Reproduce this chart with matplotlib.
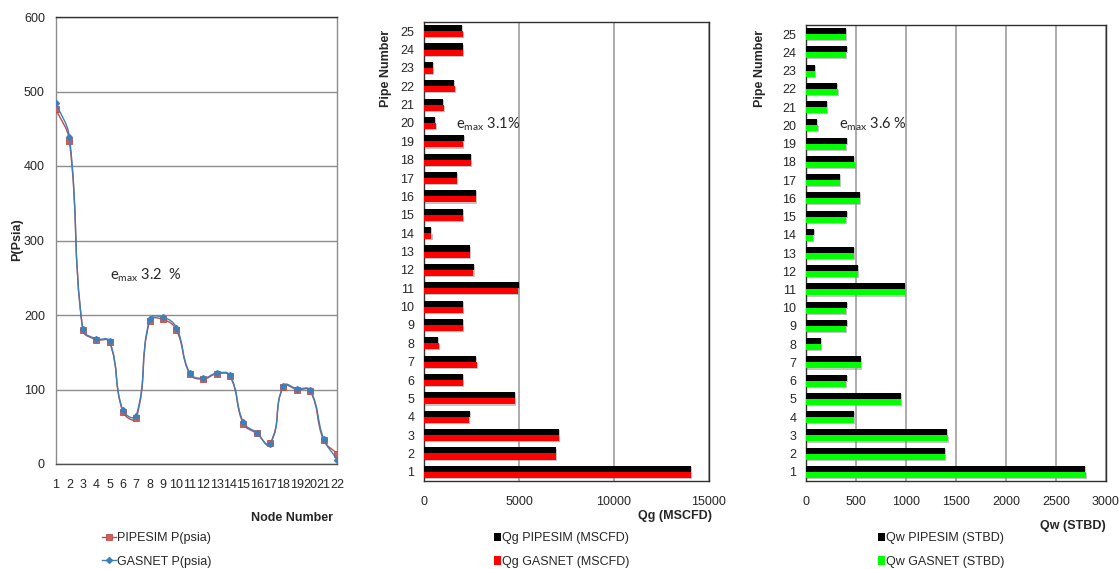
import numpy as np
import matplotlib
matplotlib.use("Agg")
import matplotlib.pyplot as plt
import matplotlib.patheffects as pe
from matplotlib.path import Path
from matplotlib.patches import PathPatch, Patch
from matplotlib.lines import Line2D

plt.rcParams["font.family"] = ["Liberation Sans", "DejaVu Sans"]
plt.rcParams["mathtext.fontset"] = "custom"
plt.rcParams["mathtext.rm"] = "Lato"

# ---- pressure at each node ----
nodes = list(range(1, 23))
p_pipesim = [476, 434, 180, 167, 164, 70, 62, 192, 194, 180, 121,
             114, 121, 118, 54, 41, 28, 104, 100, 98, 32, 14]
p_gasnet = [484, 439, 181, 168, 165, 72, 65, 194, 197, 183, 122,
            115, 122, 119, 56, 42, 27, 105, 101, 99, 34, 6]

# ---- gas and water rates per pipe (pipe 1 .. 25) ----
pipes = list(range(1, 26))
qg_pipesim = [14030, 6960, 7100, 2400, 4770, 2030, 2750, 750, 2030, 2030,
              4980, 2650, 2400, 370, 2030, 2750, 1730, 2450, 2080, 560,
              1010, 1580, 450, 2030, 2000]
qg_gasnet = [14050, 6940, 7120, 2370, 4790, 2040, 2770, 770, 2040, 2040,
             4960, 2600, 2400, 390, 2040, 2730, 1720, 2450, 2040, 610,
             1030, 1610, 470, 2040, 2040]
qw_pipesim = [2790, 1385, 1410, 475, 945, 405, 550, 150, 405, 405,
              990, 520, 475, 75, 405, 540, 340, 480, 410, 110,
              205, 310, 85, 405, 395]
qw_gasnet = [2800, 1390, 1420, 475, 950, 400, 553, 150, 400, 400,
             990, 518, 475, 72, 400, 540, 340, 490, 400, 120,
             208, 318, 88, 400, 400]

TEXT = "#262626"


def smooth_path(x, y, sx, sy, k=0.4):
    """Cubic Bezier path through the points.

    Tangent directions follow the neighbouring points; handle lengths are a
    fraction of each segment's on-screen length (sx, sy = pixels per unit),
    which keeps the curve from overshooting next to short segments.
    """
    P = np.column_stack([np.asarray(x, float) * sx, np.asarray(y, float) * sy])
    n = len(P)
    T = np.zeros_like(P)
    for i in range(n):
        d = P[min(i + 1, n - 1)] - P[max(i - 1, 0)]
        T[i] = d / np.hypot(*d)
    verts = [P[0]]
    codes = [Path.MOVETO]
    for i in range(n - 1):
        L = np.hypot(*(P[i + 1] - P[i]))
        verts += [P[i] + T[i] * L * k, P[i + 1] - T[i + 1] * L * k, P[i + 1]]
        codes += [Path.CURVE4] * 3
    V = np.array(verts) / np.array([sx, sy])
    return Path(V, codes)


W, H = 1119, 569
fig = plt.figure(figsize=(W / 100, H / 100), dpi=100)


def fx(px):
    return px / W


def fy(py):
    return 1 - py / H


def axes_px(x0, y0, x1, y1):
    return fig.add_axes([fx(x0), fy(y1), fx(x1) - fx(x0), fy(y0) - fy(y1)])


# ================= pressure profile =================
ax1 = axes_px(56, 17, 337, 464)
red_line = "#BE4B48"
blue_line = "#3F7FB8"
sx = (337 - 56) / 21.0
sy = (464 - 17) / 600.0
ax1.add_patch(PathPatch(smooth_path(nodes, p_pipesim, sx, sy), fill=False,
                        edgecolor=red_line, lw=1.0, zorder=3))
ax1.plot(nodes, p_pipesim, ls="none", marker="s", ms=4.8,
         mfc="#C8605C", mec=red_line, mew=0.6, zorder=4)
ax1.add_patch(PathPatch(smooth_path(nodes, p_gasnet, sx, sy), fill=False,
                        edgecolor=blue_line, lw=1.0, zorder=5))
ax1.plot(nodes, p_gasnet, ls="none", marker="D", ms=3.0,
         color=blue_line, zorder=6)
ax1.set_xlim(1, 22)
ax1.set_ylim(0, 600)
ax1.set_xticks(nodes)
ax1.set_xticklabels([str(n) for n in nodes])
ax1.set_yticks(range(0, 601, 100))
ax1.yaxis.grid(True, color="#8c8c8c", lw=1.0)
ax1.set_axisbelow(True)
ax1.tick_params(axis="x", length=0, pad=11, labelsize=9, labelcolor=TEXT)
ax1.tick_params(axis="y", length=0, pad=8, labelsize=9, labelcolor=TEXT)
ax1.spines["top"].set_color("#303030")
ax1.spines["bottom"].set_color("#505050")
ax1.spines["left"].set_color("#8c8c8c")
ax1.spines["right"].set_color("#8c8c8c")
for s in ax1.spines.values():
    s.set_linewidth(1.0)
fig.text(fx(17), fy(240), "P(Psia)", rotation=90, ha="center", va="center",
         fontsize=9, fontweight="bold", color=TEXT)
fig.text(fx(292), fy(518), "Node Number", ha="center", va="center",
         fontsize=9, fontweight="bold", color=TEXT)
fig.text(fx(110), fy(275), r"e$_{\rm max}$ 3.2  %",
         family="Lato", fontsize=10.5, color=TEXT, va="center", ha="left")
h1 = [Line2D([], [], color=red_line, marker="s", ms=4.8, mfc="#C8605C",
             mec=red_line, mew=0.6, lw=1.0),
      Line2D([], [], color=blue_line, marker="D", ms=3.0, lw=1.0)]
fig.legend(h1, ["PIPESIM P(psia)", "GASNET P(psia)"],
           loc="upper left", bbox_to_anchor=(fx(91), fy(521)),
           frameon=False, fontsize=9, handlelength=1.1, handletextpad=0.1,
           labelspacing=0.9, labelcolor=TEXT)

shadow = [pe.SimplePatchShadow(offset=(0.8, -0.8), shadow_rgbFace="#808080",
                               alpha=0.45), pe.Normal()]


# ================= bar charts =================
def bar_panel(box, a, b, color_b, xmax, xstep, xlabel, xlabel_pos, emax,
              emax_pos, ylabel_x, leg_labels, leg_x):
    ax = axes_px(*box)
    y = np.array(pipes, float)
    h = 0.33
    for bars in (ax.barh(y + h / 2, a, height=h, color="black", zorder=3),
                 ax.barh(y - h / 2, b, height=h, color=color_b, zorder=3)):
        for r in bars:
            r.set_path_effects(shadow)
    ax.set_xlim(0, xmax)
    ax.set_ylim(0.5, 25.5)
    ax.set_xticks(np.arange(0, xmax + 1, xstep))
    ax.set_yticks(pipes)
    ax.xaxis.grid(True, color="#a6a6a6", lw=1.3)
    ax.set_axisbelow(True)
    ax.tick_params(axis="x", length=0, pad=11, labelsize=9, labelcolor=TEXT)
    ax.tick_params(axis="y", length=0, pad=7, labelsize=9, labelcolor=TEXT)
    for s in ax.spines.values():
        s.set_color("#303030")
        s.set_linewidth(1.0)
    fig.text(fx(ylabel_x), fy(68), "Pipe Number", rotation=90,
             ha="center", va="center", fontsize=9, fontweight="bold",
             color=TEXT)
    fig.text(fx(xlabel_pos[0]), fy(xlabel_pos[1]), xlabel, ha="right",
             va="center", fontsize=9, fontweight="bold", color=TEXT)
    fig.text(fx(emax_pos[0]), fy(emax_pos[1]), emax, family="Lato",
             fontsize=10.5, color=TEXT, ha="left", va="center")
    hs = [Patch(facecolor="black"), Patch(facecolor=color_b)]
    fig.legend(hs, leg_labels, loc="upper left",
               bbox_to_anchor=(fx(leg_x), fy(521)), frameon=False,
               fontsize=9, handlelength=0.5, handleheight=0.7,
               handletextpad=0.15, labelspacing=0.9, labelcolor=TEXT)
    return ax


bar_panel((424, 22, 709, 481), qg_pipesim, qg_gasnet, "#FF0000",
          15000, 5000, "Qg (MSCFD)", (712, 516), r"e$_{\rm max}$ 3.1%",
          (456, 124), 386, ["Qg PIPESIM (MSCFD)", "Qg GASNET (MSCFD)"], 483)

bar_panel((806, 25, 1106, 481), qw_pipesim, qw_gasnet, "#00FF00",
          3000, 500, "Qw (STBD)", (1106, 526), r"e$_{\rm max}$ 3.6 %",
          (839, 124), 760, ["Qw PIPESIM (STBD)", "Qw GASNET (STBD)"], 867)

fig.savefig("out.png", dpi=100, facecolor="white")
